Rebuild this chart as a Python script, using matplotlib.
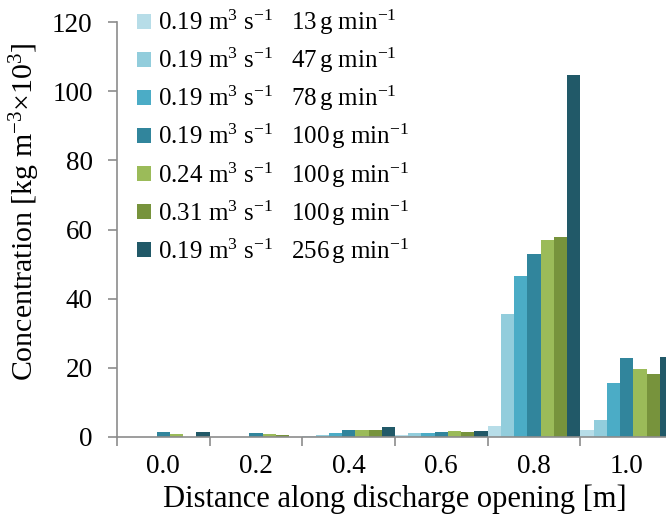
import matplotlib
matplotlib.use("Agg")
import matplotlib.pyplot as plt
import numpy as np

plt.rcParams['font.family'] = ['Liberation Serif', 'DejaVu Serif']
plt.rcParams['mathtext.fontset'] = 'custom'
plt.rcParams['mathtext.rm'] = 'Liberation Serif'
plt.rcParams['mathtext.it'] = 'Liberation Serif:italic'
plt.rcParams['mathtext.bf'] = 'Liberation Serif:bold'

categories = ['0.0', '0.2', '0.4', '0.6', '0.8', '1.0']
flow_rates = ['0.19', '0.19', '0.19', '0.19', '0.24', '0.31', '0.19']
feed_rates = ['13', '47', '78', '100', '100', '100', '256']
values = [
    [0.0, 0.0, 0.2, 0.5, 3.1, 1.9],
    [0.0, 0.0, 0.5, 1.1, 35.7, 4.8],
    [0.0, 0.0, 1.3, 1.1, 46.5, 15.7],
    [1.4, 1.1, 1.9, 1.4, 53.0, 22.7],
    [0.8, 1.0, 1.9, 1.7, 57.1, 19.7],
    [0.1, 0.6, 1.9, 1.4, 57.7, 18.2],
    [1.4, 0.1, 2.8, 1.7, 104.8, 23.2],
]
colors = ['#b7dde8', '#92cddc', '#4bacc6', '#31859c', '#9bbb59', '#77933c', '#215968']

fig = plt.figure(figsize=(6.66, 5.2), dpi=100)
ax = fig.add_axes([117/666, 83/520, 556/666, 415/520])

n = len(values)
x = np.arange(len(categories))
w = 1.0 / n
for j, (vals, c) in enumerate(zip(values, colors)):
    lab = (r'%s m$\mathregular{^{3}}$ s$\mathregular{^{-1}}$   %s$\,$g min$\mathregular{^{-1}}$'
           % (flow_rates[j], feed_rates[j]))
    ax.bar(x - 0.5 + (j + 0.5) * w, vals, width=w, color=c, label=lab, linewidth=0)

ax.set_xlim(-0.5, len(categories) - 0.5)
ax.set_ylim(0, 120)
ax.set_yticks(np.arange(0, 121, 20))

ax.set_xticks(np.arange(-0.5, len(categories), 1.0))
ax.set_xticklabels([])
ax.set_xticks(x, minor=True)
ax.set_xticklabels(categories, minor=True)

spine_c = '#8c8c8c'
for s in ['top', 'right']:
    ax.spines[s].set_visible(False)
for s in ['left', 'bottom']:
    ax.spines[s].set_color(spine_c)
    ax.spines[s].set_linewidth(1.2)

fs = 19.5
ax.tick_params(axis='y', which='major', direction='out', length=6.5, width=1.2,
               color=spine_c, labelsize=fs, pad=11)
ax.tick_params(axis='x', which='major', direction='out', length=6.5, width=1.2,
               color=spine_c)
ax.tick_params(axis='x', which='minor', length=0, labelsize=fs, pad=12)

ax.set_ylabel(r'Concentration [kg m$\mathregular{^{-3}}$$\mathregular{\times}$10$\mathregular{^{3}}$]',
              fontsize=21.5)
ax.yaxis.set_label_coords(-0.134, 0.542)
ax.set_xlabel('Distance along discharge opening [m]', fontsize=22, labelpad=4)

leg = ax.legend(loc='upper left', bbox_to_anchor=(137/666, 1 - 8/520),
                bbox_transform=fig.transFigure, frameon=False, fontsize=18,
                handlelength=0.55, handleheight=0.55, handletextpad=0.3,
                labelspacing=0.35, borderpad=0, borderaxespad=0)

fig.savefig('out.png', dpi=100)
